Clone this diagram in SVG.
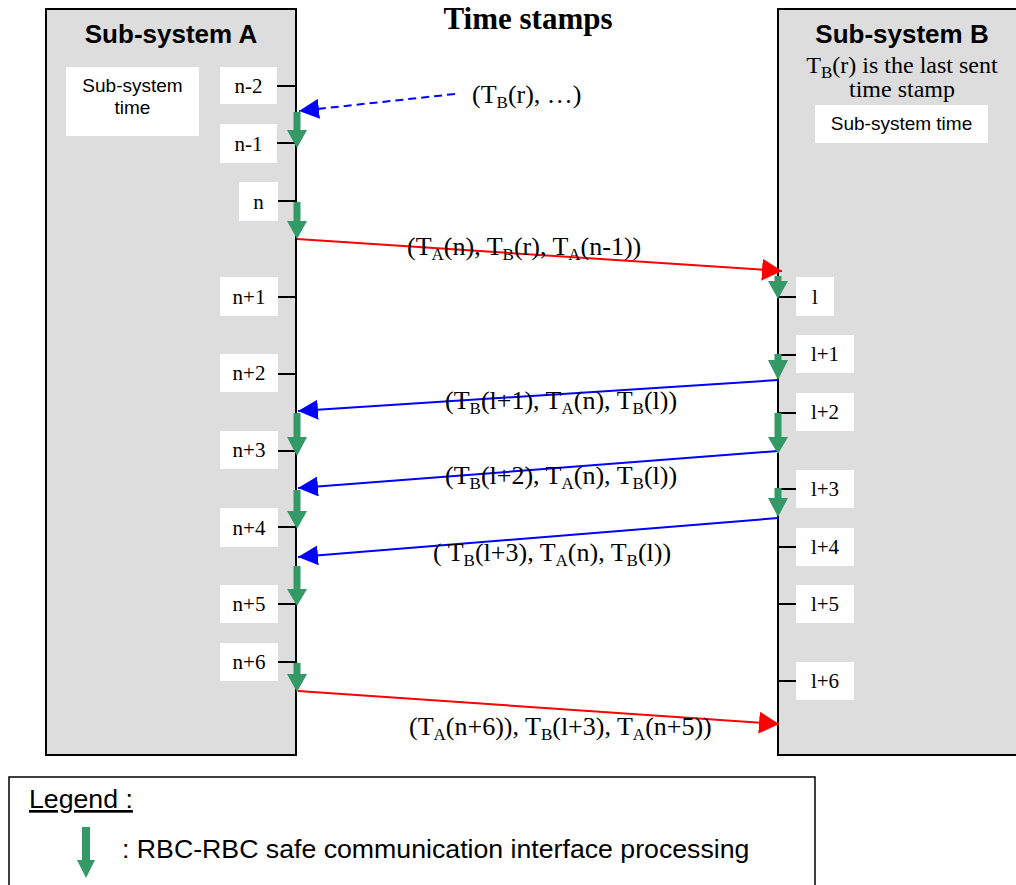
<svg xmlns="http://www.w3.org/2000/svg" width="1016" height="885" viewBox="0 0 1016 885">
<style>
.sys{fill:#dddddd;stroke:#000;stroke-width:2}
.wb{fill:#fff;stroke:none}
.tick{stroke:#000;stroke-width:2}
.ttl{font-family:"Liberation Sans",Arial,sans-serif;font-weight:bold;font-size:26px;text-anchor:middle;fill:#000}
.sans{font-family:"Liberation Sans",Arial,sans-serif;font-size:19px;text-anchor:middle;fill:#000}
.tk{font-family:"Liberation Serif","Times New Roman",serif;font-size:21px;text-anchor:middle;fill:#000}
.lbl{font-family:"Liberation Serif","Times New Roman",serif;font-size:26px;fill:#000}
.note{font-family:"Liberation Serif","Times New Roman",serif;font-size:24px;text-anchor:middle;fill:#000}
.sub{font-size:17px}
.grn{fill:#339966}
.red{stroke:#ff0000;stroke-width:2;fill:none}
.blue{stroke:#0000ff;stroke-width:2;fill:none}
.leg{font-family:"Liberation Sans",Arial,sans-serif;font-size:26.7px;fill:#000}
</style>
<defs>
<marker id="hr" viewBox="0 0 20 22" refX="20" refY="11" markerWidth="20" markerHeight="22" markerUnits="userSpaceOnUse" orient="auto"><path d="M0,0 L20,11 L0,22 z" fill="#ff0000"/></marker>
<marker id="hb" viewBox="0 0 20 20" refX="20" refY="10" markerWidth="20" markerHeight="20" markerUnits="userSpaceOnUse" orient="auto"><path d="M0,0 L20,10 L0,20 z" fill="#0000ff"/></marker>
</defs>
<rect width="1016" height="885" fill="#fff"/>

<text x="528" y="29" font-family="Liberation Serif,'Times New Roman',serif" font-weight="bold" font-size="31" text-anchor="middle">Time stamps</text>

<g id="subsystemA">
<rect class="sys" x="46" y="9" width="250" height="746"/>
<text class="ttl" x="171" y="43">Sub-system A</text>
<rect class="wb" x="66" y="67" width="133" height="69"/>
<text class="sans" x="132.5" y="92">Sub-system</text>
<text class="sans" x="132.5" y="114">time</text>
<g id="ticksA">
<line class="tick" x1="277" y1="86" x2="296" y2="86"/>
<line class="tick" x1="277" y1="143" x2="296" y2="143"/>
<line class="tick" x1="277" y1="201" x2="296" y2="201"/>
<line class="tick" x1="277" y1="297" x2="296" y2="297"/>
<line class="tick" x1="277" y1="374" x2="296" y2="374"/>
<line class="tick" x1="277" y1="451" x2="296" y2="451"/>
<line class="tick" x1="277" y1="527" x2="296" y2="527"/>
<line class="tick" x1="277" y1="604" x2="296" y2="604"/>
<line class="tick" x1="277" y1="662" x2="296" y2="662"/>
</g>
<g id="n-2"><rect class="wb" x="220" y="67" width="57" height="37"/><text class="tk" x="248.5" y="92.5">n-2</text></g>
<g id="n-1"><rect class="wb" x="220" y="124" width="57" height="39"/><text class="tk" x="248.5" y="150.5">n-1</text></g>
<g id="n"><rect class="wb" x="239" y="182" width="39" height="39"/><text class="tk" x="258.5" y="208.5">n</text></g>
<g id="n+1"><rect class="wb" x="220" y="277" width="58" height="39"/><text class="tk" x="249" y="303.5">n+1</text></g>
<g id="n+2"><rect class="wb" x="220" y="354" width="58" height="38"/><text class="tk" x="249" y="380">n+2</text></g>
<g id="n+3"><rect class="wb" x="220" y="431" width="58" height="38"/><text class="tk" x="249" y="457">n+3</text></g>
<g id="n+4"><rect class="wb" x="220" y="508" width="58" height="39"/><text class="tk" x="249" y="534.5">n+4</text></g>
<g id="n+5"><rect class="wb" x="220" y="585" width="58" height="38"/><text class="tk" x="249" y="611">n+5</text></g>
<g id="n+6"><rect class="wb" x="220" y="643" width="58" height="38"/><text class="tk" x="249" y="669">n+6</text></g>
</g>

<g id="subsystemB">
<rect class="sys" x="778" y="9" width="260" height="746"/>
<text class="ttl" x="902" y="43">Sub-system B</text>
<text class="note" x="902" y="73">T<tspan class="sub" dy="5">B</tspan><tspan dy="-5">(r) is the last sent</tspan></text>
<text class="note" x="902" y="97">time stamp</text>
<rect class="wb" x="815" y="105" width="173" height="38"/>
<text class="sans" x="901.5" y="130">Sub-system time</text>
<g id="ticksB">
<line class="tick" x1="778" y1="297" x2="797" y2="297"/>
<line class="tick" x1="778" y1="355" x2="797" y2="355"/>
<line class="tick" x1="778" y1="413" x2="797" y2="413"/>
<line class="tick" x1="778" y1="489" x2="797" y2="489"/>
<line class="tick" x1="778" y1="547" x2="797" y2="547"/>
<line class="tick" x1="778" y1="604" x2="797" y2="604"/>
<line class="tick" x1="778" y1="681" x2="797" y2="681"/>
</g>
<g id="l"><rect class="wb" x="796" y="277" width="38" height="39"/><text class="tk" x="815" y="303.5">l</text></g>
<g id="l+1"><rect class="wb" x="796" y="335" width="58" height="38"/><text class="tk" x="825" y="361">l+1</text></g>
<g id="l+2"><rect class="wb" x="796" y="393" width="58" height="38"/><text class="tk" x="825" y="419">l+2</text></g>
<g id="l+3"><rect class="wb" x="796" y="470" width="58" height="38"/><text class="tk" x="825" y="496">l+3</text></g>
<g id="l+4"><rect class="wb" x="796" y="528" width="58" height="38"/><text class="tk" x="825" y="554">l+4</text></g>
<g id="l+5"><rect class="wb" x="796" y="585" width="58" height="38"/><text class="tk" x="825" y="611">l+5</text></g>
<g id="l+6"><rect class="wb" x="796" y="662" width="58" height="38"/><text class="tk" x="825" y="688">l+6</text></g>
</g>

<g id="connectors">
<line x1="455" y1="94" x2="299" y2="111" stroke="#0000ff" stroke-width="2" stroke-dasharray="8,5" marker-end="url(#hb)"/>
<line class="red" x1="297" y1="239" x2="782" y2="271" marker-end="url(#hr)"/>
<line class="blue" x1="778" y1="380" x2="298" y2="411" marker-end="url(#hb)"/>
<line class="blue" x1="778" y1="451" x2="298" y2="488" marker-end="url(#hb)"/>
<line class="blue" x1="778" y1="518" x2="298" y2="557" marker-end="url(#hb)"/>
<line class="red" x1="298" y1="691" x2="779" y2="724" marker-end="url(#hr)"/>
</g>

<g id="labels">
<text class="lbl" x="472" y="103">(T<tspan class="sub" dy="5">B</tspan><tspan dy="-5">(r), …)</tspan></text>
<text class="lbl" x="407" y="255">(T<tspan class="sub" dy="5">A</tspan><tspan dy="-5">(n), T</tspan><tspan class="sub" dy="5">B</tspan><tspan dy="-5">(r), T</tspan><tspan class="sub" dy="5">A</tspan><tspan dy="-5">(n-1))</tspan></text>
<text class="lbl" x="445" y="409">(T<tspan class="sub" dy="5">B</tspan><tspan dy="-5">(l+1), T</tspan><tspan class="sub" dy="5">A</tspan><tspan dy="-5">(n), T</tspan><tspan class="sub" dy="5">B</tspan><tspan dy="-5">(l))</tspan></text>
<text class="lbl" x="445" y="484">(T<tspan class="sub" dy="5">B</tspan><tspan dy="-5">(l+2), T</tspan><tspan class="sub" dy="5">A</tspan><tspan dy="-5">(n), T</tspan><tspan class="sub" dy="5">B</tspan><tspan dy="-5">(l))</tspan></text>
<text class="lbl" x="433" y="561">( T<tspan class="sub" dy="5">B</tspan><tspan dy="-5">(l+3), T</tspan><tspan class="sub" dy="5">A</tspan><tspan dy="-5">(n), T</tspan><tspan class="sub" dy="5">B</tspan><tspan dy="-5">(l))</tspan></text>
<text class="lbl" x="409" y="735">(T<tspan class="sub" dy="5">A</tspan><tspan dy="-5">(n+6)), T</tspan><tspan class="sub" dy="5">B</tspan><tspan dy="-5">(l+3), T</tspan><tspan class="sub" dy="5">A</tspan><tspan dy="-5">(n+5))</tspan></text>
</g>

<g id="processing">
<path class="grn" d="M293.5,112 H300.5 V130 H307 L297,148 L287,130 H293.5 Z"/>
<path class="grn" d="M293.5,202 H300.5 V221 H307 L297,239 L287,221 H293.5 Z"/>
<path class="grn" d="M293.5,413 H300.5 V437 H307 L297,456 L287,437 H293.5 Z"/>
<path class="grn" d="M293.5,490 H300.5 V511 H307 L297,529 L287,511 H293.5 Z"/>
<path class="grn" d="M293.5,566 H300.5 V589 H307 L297,606 L287,589 H293.5 Z"/>
<path class="grn" d="M293.5,663 H300.5 V674 H307 L297,692 L287,674 H293.5 Z"/>
<path class="grn" d="M774.5,276 H781.5 V281 H788 L778,299 L768,281 H774.5 Z"/>
<path class="grn" d="M774.5,354 H781.5 V360 H788 L778,380 L768,360 H774.5 Z"/>
<path class="grn" d="M774.5,413 H781.5 V437 H788 L778,454 L768,437 H774.5 Z"/>
<path class="grn" d="M774.5,488 H781.5 V498 H788 L778,517 L768,498 H774.5 Z"/>
</g>

<g id="legend">
<rect x="9" y="777" width="806" height="130" fill="#fff" stroke="#000" stroke-width="1.5"/>
<text class="leg" x="29" y="808" text-decoration="underline">Legend :</text>
<path class="grn" d="M82,827 H90 V860 H95 L86,878 L77,860 H82 Z"/>
<text class="leg" x="122" y="858">: RBC-RBC safe communication interface processing</text>
</g>
</svg>
